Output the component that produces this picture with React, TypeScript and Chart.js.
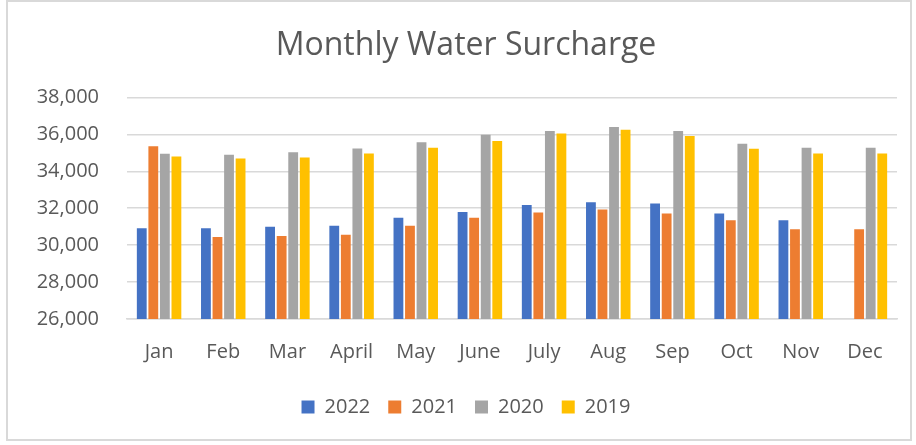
import React, { useEffect, useRef } from "react";
import { Chart, registerables } from "chart.js";

Chart.register(...registerables);

const months = ["Jan", "Feb", "Mar", "April", "May", "June", "July", "Aug", "Sep", "Oct", "Nov", "Dec"];
const values2022 = [30920, 30920, 31000, 31050, 31480, 31800, 32180, 32320, 32250, 31710, 31350, null];
const values2021 = [35350, 30440, 30500, 30560, 31050, 31480, 31770, 31930, 31710, 31350, 30860, 30860];
const values2020 = [34950, 34890, 35030, 35230, 35570, 35980, 36180, 36400, 36180, 35490, 35280, 35280];
const values2019 = [34800, 34690, 34740, 34960, 35280, 35640, 36050, 36250, 35910, 35220, 34960, 34960];
const seriesNames = ["2022", "2021", "2020", "2019"];
const seriesColors = ["#4472C4", "#ED7D31", "#A5A5A5", "#FFC000"];

const FONT = "'Open Sans', 'Noto Sans', sans-serif";

export default function App() {
  const ref = useRef<HTMLCanvasElement | null>(null);

  useEffect(() => {
    if (!ref.current) return;
    const data = [values2022, values2021, values2020, values2019];
    const chart = new Chart(ref.current, {
      type: "bar",
      data: {
        labels: months,
        datasets: seriesNames.map((name, i) => ({
          label: name,
          data: data[i],
          backgroundColor: seriesColors[i],
          borderWidth: 0,
          categoryPercentage: 0.72,
          barPercentage: 0.85,
        })),
      },
      options: {
        animation: false,
        responsive: false,
        maintainAspectRatio: false,
        layout: { padding: { left: 27, right: 13, top: 0, bottom: 12 } },
        plugins: {
          title: {
            display: true,
            text: "Monthly Water Surcharge",
            color: "#595959",
            font: { family: FONT, size: 32, weight: "normal" },
            padding: { top: 25, bottom: 32 },
          },
          legend: {
            position: "bottom",
            labels: {
              color: "#595959",
              font: { family: FONT, size: 20 },
              boxWidth: 13,
              boxHeight: 13,
              padding: 18,
            },
          },
          tooltip: { enabled: false },
        },
        scales: {
          x: {
            grid: { display: false },
            border: { display: true, color: "#D9D9D9", width: 1.5 },
            ticks: {
              color: "#595959",
              font: { family: FONT, size: 20 },
              padding: 13,
            },
            afterFit: (scale: any) => {
              scale.height = 60;
            },
          },
          y: {
            min: 26000,
            max: 38000,
            grid: { color: "#D9D9D9", lineWidth: 1.5, drawTicks: false },
            border: { display: false },
            ticks: {
              stepSize: 2000,
              color: "#595959",
              font: { family: FONT, size: 20 },
              padding: 28,
              callback: (v: any) => Number(v).toLocaleString("en-US"),
            },
            afterFit: (scale: any) => {
              scale.width = 92;
            },
          },
        },
      },
    });
    return () => chart.destroy();
  }, []);

  return (
    <div
      style={{
        position: "fixed",
        left: 6,
        top: 0,
        width: 906,
        height: 441,
        boxSizing: "border-box",
        border: "2px solid #D9D9D9",
        background: "#fff",
      }}
    >
      <canvas ref={ref} width={902} height={437} style={{ display: "block" }} />
    </div>
  );
}
